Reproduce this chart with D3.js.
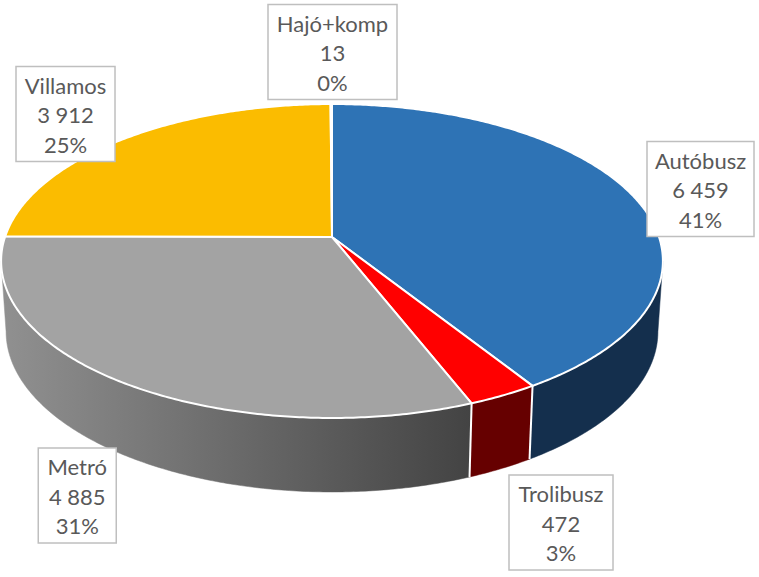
<!DOCTYPE html>
<html>
<head>
<meta charset="utf-8">
<script src="https://cdn.jsdelivr.net/npm/d3@7"></script>
<style>
html,body{margin:0;padding:0;background:#fff}
svg{display:block}
text{font-family:Lato,"Open Sans",sans-serif;font-size:22px;fill:#595959}
</style>
</head>
<body>
<svg id="chart" width="759" height="577"></svg>
<script>
const categories = ["Autóbusz", "Trolibusz", "Metró", "Villamos", "Hajó+komp"];
const values = [6459, 472, 4885, 3912, 13];
const topColors = ["#2e73b5", "#ff0000", "#a3a3a3", "#fbbc00", "#6fa84a"];
const sideColors = ["#142f4d", "#660000", "url(#metroSide)", "#966f00", "#44662c"];
const labelCenters = [[700.5, 189], [561, 522.5], [77.25, 495.5], [65.5, 114], [332.5, 52]];
const labelWidths = [107, 104, 78, 99, 129];

const W = 759, H = 577;
const cx = 332, R = 327, persp = 0.1528;
const topY = 237, topA = 153.3, botY = 307, botA = 156.7, botScale = 0.985;
const visibleStart = 98.8 * Math.PI / 180, visibleEnd = 261.2 * Math.PI / 180;

const svg = d3.select("#chart");
const defs = svg.append("defs");
const grad = defs.append("linearGradient").attr("id", "metroSide")
  .attr("gradientUnits", "userSpaceOnUse")
  .attr("x1", 5).attr("x2", 472).attr("y1", 0).attr("y2", 0);
grad.append("stop").attr("offset", 0).attr("stop-color", "#909090");
grad.append("stop").attr("offset", 1).attr("stop-color", "#434343");

const arcs = d3.pie().sort(null).startAngle(0).endAngle(2 * Math.PI)(values);

function project(theta, bottom) {
  const u = Math.sin(theta), v = -Math.cos(theta), d = 1 - persp * v;
  return bottom
    ? [cx + botScale * R * u / d, botY + botA * v / d]
    : [cx + R * u / d, topY + topA * v / d];
}
function samples(a, b, bottom) {
  const n = Math.max(2, Math.ceil((b - a) / 0.01));
  return d3.range(n + 1).map(i => project(a + (b - a) * i / n, bottom));
}
const line = d3.line();

// Side wall: only the part facing the viewer
const sides = arcs.map((d, i) => ({
  i, a: Math.max(d.startAngle, visibleStart), b: Math.min(d.endAngle, visibleEnd)
})).filter(s => s.b > s.a);

svg.append("g").selectAll("path").data(sides).join("path")
  .attr("d", s => line(samples(s.a, s.b, false).concat(samples(s.a, s.b, true).reverse())) + "Z")
  .attr("fill", s => sideColors[s.i])
  .attr("stroke", s => sideColors[s.i]).attr("stroke-width", 0.5);

// White seams between side segments
svg.append("g").selectAll("line").data(sides.slice(0, -1)).join("line")
  .attr("x1", s => project(s.b, false)[0]).attr("y1", s => project(s.b, false)[1])
  .attr("x2", s => project(s.b, true)[0]).attr("y2", s => project(s.b, true)[1])
  .attr("stroke", "#fff").attr("stroke-width", 2);

// Top face
svg.append("g").selectAll("path").data(arcs).join("path")
  .attr("d", d => line([[cx, topY]].concat(samples(d.startAngle, d.endAngle, false))) + "Z")
  .attr("fill", (d, i) => topColors[i])
  .attr("stroke", "#fff").attr("stroke-width", 2).attr("stroke-linejoin", "round");

// Labels
const fmtNum = d3.formatLocale({decimal: ",", thousands: " ", grouping: [3], currency: ["", ""]}).format(",d");
const fmtPct = d3.format(".0%");
const total = d3.sum(values);
const lineGap = 29.5, boxH = 95;

const labels = svg.append("g").selectAll("g").data(categories).join("g")
  .attr("transform", (d, i) => `translate(${labelCenters[i][0]},${labelCenters[i][1]})`);
labels.append("rect")
  .attr("x", (d, i) => -labelWidths[i] / 2).attr("y", -boxH / 2)
  .attr("width", (d, i) => labelWidths[i]).attr("height", boxH)
  .attr("fill", "#fff").attr("stroke", "#bfbfbf").attr("stroke-width", 1.5);
labels.each(function (name, i) {
  const rows = [name, fmtNum(values[i]), fmtPct(values[i] / total)];
  d3.select(this).selectAll("text").data(rows).join("text")
    .attr("text-anchor", "middle")
    .attr("y", (r, k) => (k - 1) * lineGap + 9)
    .text(r => r);
});
</script>
</body>
</html>
